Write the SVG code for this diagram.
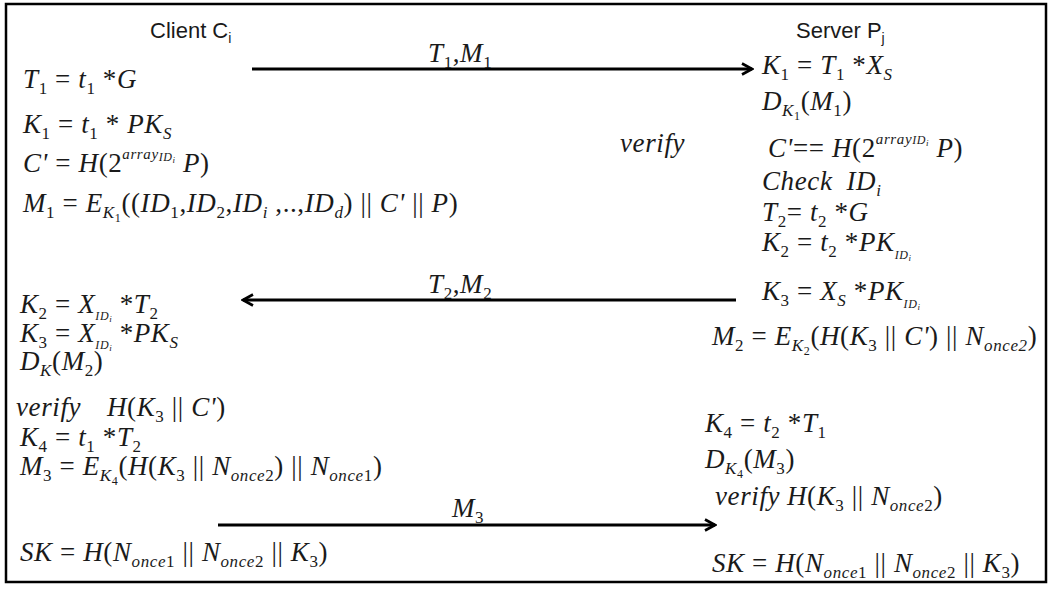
<svg xmlns="http://www.w3.org/2000/svg" width="1052" height="590" viewBox="0 0 1052 590">
<style>
.m{font-family:"Liberation Serif",serif;font-style:italic;font-size:27px;letter-spacing:0.6px;fill:#1a1a1a}
.n{font-style:normal}
.b{font-size:17px}
.c{font-size:12px}
.d{font-size:9px}
.p{font-size:15px}
.h{font-family:"Liberation Sans",Arial,sans-serif;font-size:22px;fill:#1a1a1a}
.ar{stroke:#000;stroke-width:3;fill:none}
</style>
<defs>
<marker id="ah" viewBox="0 0 14 14" refX="12" refY="7" markerWidth="14" markerHeight="14" markerUnits="userSpaceOnUse" orient="auto">
<path d="M2,1.5 L12,7 L2,12.5" fill="none" stroke="#000" stroke-width="2.6"/>
</marker>
</defs>
<rect x="0" y="0" width="1052" height="590" fill="#fff"/>
<rect x="6" y="4" width="1040" height="578" fill="none" stroke="#000" stroke-width="2.5"/>

<g id="client">
<text class="h" x="150" y="38">Client C<tspan font-size="14" dy="5">i</tspan></text>
<text class="m" x="23" y="88">T<tspan class="b n" dy="6">1</tspan><tspan class="n" dy="-6"> = </tspan>t<tspan class="b n" dy="6">1</tspan><tspan class="n" dy="-6"> *</tspan>G</text>
<text class="m" x="23" y="133">K<tspan class="b n" dy="6">1</tspan><tspan class="n" dy="-6"> = </tspan>t<tspan class="b n" dy="6">1</tspan><tspan class="n" dy="-6"> * </tspan>PK<tspan class="b" dy="6">S</tspan></text>
<text class="m" x="23" y="172">C'<tspan class="n"> = </tspan>H<tspan class="n">(2</tspan><tspan class="p" dy="-13">array</tspan><tspan class="c" dy="2">ID</tspan><tspan class="d" dy="2">i</tspan><tspan dy="9"> P</tspan><tspan class="n">)</tspan></text>
<text class="m" x="23" y="212">M<tspan class="b n" dy="6">1</tspan><tspan class="n" dy="-6"> = </tspan>E<tspan class="b" dy="6">K</tspan><tspan class="c n" dy="4">1</tspan><tspan class="n" dy="-10">((</tspan>ID<tspan class="b n" dy="6">1</tspan><tspan class="n" dy="-6">,</tspan>ID<tspan class="b n" dy="6">2</tspan><tspan class="n" dy="-6">,</tspan>ID<tspan class="b" dy="6">i</tspan><tspan class="n" dy="-6"> ,..,</tspan>ID<tspan class="b" dy="6">d</tspan><tspan class="n" dy="-6">) || </tspan>C'<tspan class="n"> || </tspan>P<tspan class="n">)</tspan></text>
</g>

<g id="client-response">
<text class="m" x="20" y="313">K<tspan class="b n" dy="6">2</tspan><tspan class="n" dy="-6"> = </tspan>X<tspan class="c" dy="7">ID</tspan><tspan class="d" dy="2">i</tspan><tspan class="n" dy="-9"> *</tspan>T<tspan class="b n" dy="6">2</tspan></text>
<text class="m" x="20" y="342">K<tspan class="b n" dy="6">3</tspan><tspan class="n" dy="-6"> = </tspan>X<tspan class="c" dy="7">ID</tspan><tspan class="d" dy="2">i</tspan><tspan class="n" dy="-9"> *</tspan>PK<tspan class="b" dy="6">S</tspan></text>
<text class="m" x="20" y="370">D<tspan class="b" dy="6">K</tspan><tspan class="n" dy="-6">(</tspan>M<tspan class="b n" dy="6">2</tspan><tspan class="n" dy="-6">)</tspan></text>
<text class="m" x="16" y="416">verify<tspan x="107">H</tspan><tspan class="n">(</tspan>K<tspan class="b n" dy="6">3</tspan><tspan class="n" dy="-6"> || </tspan>C'<tspan class="n">)</tspan></text>
<text class="m" x="20" y="446">K<tspan class="b n" dy="6">4</tspan><tspan class="n" dy="-6"> = </tspan>t<tspan class="b n" dy="6">1</tspan><tspan class="n" dy="-6"> *</tspan>T<tspan class="b n" dy="6">2</tspan></text>
<text class="m" x="20" y="475">M<tspan class="b n" dy="6">3</tspan><tspan class="n" dy="-6"> = </tspan>E<tspan class="b" dy="6">K</tspan><tspan class="c n" dy="4">4</tspan><tspan class="n" dy="-10">(</tspan>H<tspan class="n">(</tspan>K<tspan class="b n" dy="6">3</tspan><tspan class="n" dy="-6"> || </tspan>N<tspan class="b" dy="6">once</tspan><tspan class="b n">2</tspan><tspan class="n" dy="-6">) || </tspan>N<tspan class="b" dy="6">once</tspan><tspan class="b n">1</tspan><tspan class="n" dy="-6">)</tspan></text>
<text class="m" x="20" y="561">SK<tspan class="n"> = </tspan>H<tspan class="n">(</tspan>N<tspan class="b" dy="6">once</tspan><tspan class="b n">1</tspan><tspan class="n" dy="-6"> || </tspan>N<tspan class="b" dy="6">once</tspan><tspan class="b n">2</tspan><tspan class="n" dy="-6"> || </tspan>K<tspan class="b n" dy="6">3</tspan><tspan class="n" dy="-6">)</tspan></text>
</g>

<g id="server">
<text class="h" x="796" y="38">Server P<tspan font-size="14" dy="5">j</tspan></text>
<text class="m" x="762" y="74">K<tspan class="b n" dy="6">1</tspan><tspan class="n" dy="-6"> = </tspan>T<tspan class="b n" dy="6">1</tspan><tspan class="n" dy="-6"> *</tspan>X<tspan class="b" dy="6">S</tspan></text>
<text class="m" x="762" y="110">D<tspan class="b" dy="6">K</tspan><tspan class="c n" dy="4">1</tspan><tspan class="n" dy="-10">(</tspan>M<tspan class="b n" dy="6">1</tspan><tspan class="n" dy="-6">)</tspan></text>
<text class="m" x="768" y="157">C'<tspan class="n">== </tspan>H<tspan class="n">(2</tspan><tspan class="p" dy="-13">array</tspan><tspan class="c" dy="0">ID</tspan><tspan class="d" dy="2">i</tspan><tspan dy="11"> P</tspan><tspan class="n">)</tspan></text>
<text class="m" x="762" y="190">Check<tspan dx="14">ID</tspan><tspan class="b" dy="6">i</tspan></text>
<text class="m" x="762" y="221">T<tspan class="b n" dy="6">2</tspan><tspan class="n" dy="-6">= </tspan>t<tspan class="b n" dy="6">2</tspan><tspan class="n" dy="-6"> *</tspan>G</text>
<text class="m" x="762" y="251">K<tspan class="b n" dy="6">2</tspan><tspan class="n" dy="-6"> = </tspan>t<tspan class="b n" dy="6">2</tspan><tspan class="n" dy="-6"> *</tspan>PK<tspan class="c" dy="8">ID</tspan><tspan class="d" dy="2">i</tspan></text>
<text class="m" x="762" y="300">K<tspan class="b n" dy="6">3</tspan><tspan class="n" dy="-6"> = </tspan>X<tspan class="b" dy="6">S</tspan><tspan class="n" dy="-6"> *</tspan>PK<tspan class="c" dy="8">ID</tspan><tspan class="d" dy="2">i</tspan></text>
<text class="m" x="712" y="345">M<tspan class="b n" dy="6">2</tspan><tspan class="n" dy="-6"> = </tspan>E<tspan class="b" dy="6">K</tspan><tspan class="c n" dy="4">2</tspan><tspan class="n" dy="-10">(</tspan>H<tspan class="n">(</tspan>K<tspan class="b n" dy="6">3</tspan><tspan class="n" dy="-6"> || </tspan>C'<tspan class="n">) || </tspan>N<tspan class="b" dy="6">once2</tspan><tspan class="n" dy="-6">)</tspan></text>
</g>

<g id="server-verify">
<text class="m" x="620" y="152">verify</text>
</g>

<g id="server-final">
<text class="m" x="705" y="432">K<tspan class="b n" dy="6">4</tspan><tspan class="n" dy="-6"> = </tspan>t<tspan class="b n" dy="6">2</tspan><tspan class="n" dy="-6"> *</tspan>T<tspan class="b n" dy="6">1</tspan></text>
<text class="m" x="705" y="468">D<tspan class="b" dy="6">K</tspan><tspan class="c n" dy="4">4</tspan><tspan class="n" dy="-10">(</tspan>M<tspan class="b n" dy="6">3</tspan><tspan class="n" dy="-6">)</tspan></text>
<text class="m" x="715" y="505">verify<tspan x="787">H</tspan><tspan class="n">(</tspan>K<tspan class="b n" dy="6">3</tspan><tspan class="n" dy="-6"> || </tspan>N<tspan class="b" dy="6">once</tspan><tspan class="b n">2</tspan><tspan class="n" dy="-6">)</tspan></text>
<text class="m" x="712" y="572">SK<tspan class="n"> = </tspan>H<tspan class="n">(</tspan>N<tspan class="b" dy="6">once</tspan><tspan class="b n">1</tspan><tspan class="n" dy="-6"> || </tspan>N<tspan class="b" dy="6">once</tspan><tspan class="b n">2</tspan><tspan class="n" dy="-6"> || </tspan>K<tspan class="b n" dy="6">3</tspan><tspan class="n" dy="-6">)</tspan></text>
</g>

<g id="connectors">
<line class="ar" x1="252" y1="69" x2="752" y2="69" marker-end="url(#ah)"/>
<text class="m" x="428" y="62">T<tspan class="b n" dy="6">1</tspan><tspan class="n" dy="-6">,</tspan>M<tspan class="b n" dy="6">1</tspan></text>
<line class="ar" x1="736" y1="300" x2="243" y2="300" marker-end="url(#ah)"/>
<text class="m" x="428" y="293">T<tspan class="b n" dy="6">2</tspan><tspan class="n" dy="-6">,</tspan>M<tspan class="b n" dy="6">2</tspan></text>
<line class="ar" x1="218" y1="525" x2="715" y2="525" marker-end="url(#ah)"/>
<text class="m" x="452" y="517">M<tspan class="b n" dy="6">3</tspan></text>
</g>
</svg>
